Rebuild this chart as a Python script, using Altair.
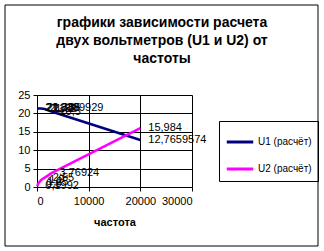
import altair as alt
import pandas as pd

freq = [50, 200, 400, 800, 1500, 2800, 20000]
u1 = [21.3389929, 21.338, 21.335, 21.32, 21.2, 20.5, 12.7659574]
u2 = [0.1992, 0.8, 1.25, 1.9, 2.55, 3.76924, 15.984]
series = ["U1 (расчёт)", "U2 (расчёт)"]
colors = ["#000080", "#FF00FF"]
x_ticks = [0, 10000, 20000, 30000]
y_ticks = [0, 5, 10, 15, 20, 25]
title_lines = ["графики зависимости расчета", "двух вольтметров (U1 и U2) от", "частоты"]
x_title = "частота"

rows = []
for i, f in enumerate(freq):
    for s, vals in zip(series, [u1, u2]):
        v = vals[i]
        rows.append({"f": f, "v": v, "s": s, "lab": str(v).replace(".", ",")})
df = pd.DataFrame(rows)

FONT = "Liberation Sans"

x = alt.X("f:Q", scale=alt.Scale(domain=[0, 30000], nice=False),
          axis=alt.Axis(values=x_ticks, title=x_title, grid=True, gridColor="#000000",
                        gridOpacity=1, domain=False, tickColor="#000000", tickSize=4,
                        format="d", labelOverlap=False,
                        labelFont=FONT, labelFontSize=11, labelColor="#000000",
                        labelPadding=4, titleFont=FONT, titleFontSize=11,
                        titleFontWeight="bold", titlePadding=10, titleColor="#000000"))
y = alt.Y("v:Q", scale=alt.Scale(domain=[0, 25], nice=False),
          axis=alt.Axis(values=y_ticks, title=None, grid=True, gridColor="#000000",
                        gridOpacity=1, domain=False, tickColor="#000000", tickSize=4,
                        format="d", labelOverlap=False,
                        labelFont=FONT, labelFontSize=11, labelColor="#000000",
                        labelPadding=3))
color = alt.Color("s:N", scale=alt.Scale(domain=series, range=colors),
                  legend=alt.Legend(title=None, orient="none", legendX=182, legendY=26,
                                    strokeColor="#000000", padding=6, symbolType="stroke",
                                    symbolSize=700, symbolStrokeWidth=3,
                                    labelFont=FONT, labelFontSize=10, labelColor="#000000",
                                    rowPadding=6, labelOffset=3))

base = alt.Chart(df)
lines = base.mark_line(strokeWidth=2.5).encode(x=x, y=y, color=color, order="f:Q")
labels = base.mark_text(align="left", baseline="middle", dx=8, font=FONT, fontSize=11,
                        color="#000000").encode(x=x, y=y, text="lab:N")
one = pd.DataFrame({"a": [0]})
frame = alt.Chart(one).mark_rect(fillOpacity=0, stroke="#000000", strokeWidth=1).encode(
    x=alt.value(-32), x2=alt.value(281), y=alt.value(-90), y2=alt.value(151))
title = alt.Chart(one).mark_text(align="center", baseline="middle", font=FONT, fontSize=14,
                                 fontWeight="bold", lineHeight=18, lineBreak="\n",
                                 color="#000000").encode(
    x=alt.value(125), y=alt.value(-72), text=alt.value("\n".join(title_lines)))

chart = alt.layer(lines, labels, frame, title).properties(
    width=155, height=92,
    autosize=alt.AutoSizeParams(type="none"),
    padding={"left": 37, "top": 95, "right": 132, "bottom": 64},
).configure_view(stroke="#000000", strokeWidth=1).configure(background="#ffffff")

chart.save("out.html", embed_options={"renderer": "svg", "actions": False})
